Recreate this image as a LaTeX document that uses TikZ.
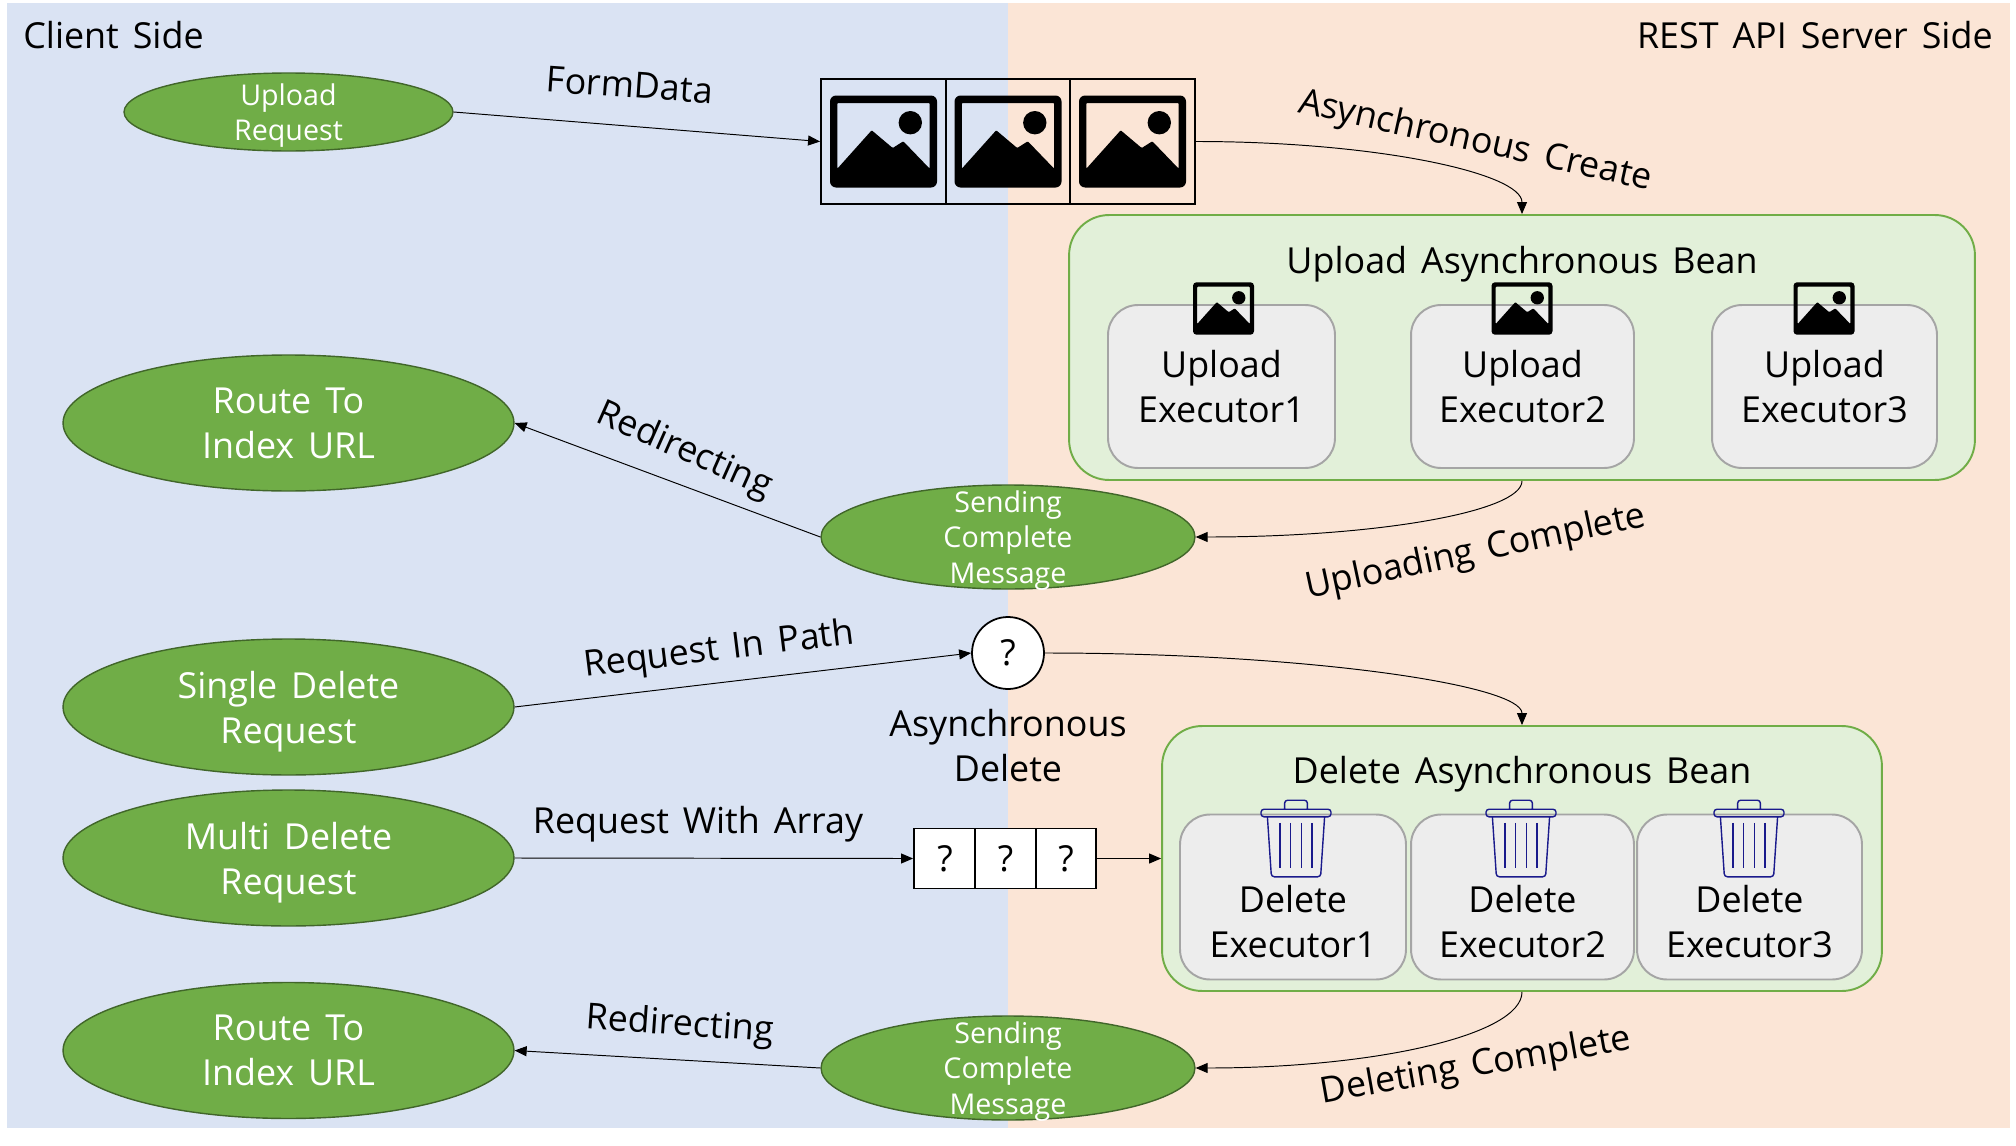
\documentclass[tikz,border=0pt]{standalone}
\usepackage{fontspec}
\setmainfont[WordSpace=1.5]{Open Sans}
\usetikzlibrary{arrows.meta,shapes.geometric}
\definecolor{clientblue}{HTML}{DAE3F3}
\definecolor{serverpeach}{HTML}{FBE5D6}
\definecolor{ovalgreen}{HTML}{70AD47}
\definecolor{ovaledge}{HTML}{41662A}
\definecolor{beangreen}{HTML}{E2F0D9}
\definecolor{execgrey}{HTML}{EDEDED}
\definecolor{execedge}{HTML}{A5A5A5}
\definecolor{trashblue}{HTML}{1A1A8C}
\newcommand{\nodepth}[1]{\raisebox{0pt}[\height][0pt]{#1}}
\tikzset{
  sidepanel/.style={rectangle, draw=none, fill=#1, inner sep=0pt, anchor=north west},
  bigtext/.style={font=\fontsize{20.4}{25.6}\selectfont, align=center, inner sep=0pt},
  greenoval/.style={ellipse, draw=ovaledge, fill=ovalgreen, line width=0.8pt, inner sep=0pt,
    text=white, font=\fontsize{20.4}{25.6}\selectfont, align=center,
    minimum width=9.02cm, minimum height=2.72cm},
  smalloval/.style={ellipse, draw=ovaledge, fill=ovalgreen, line width=0.8pt, inner sep=0pt,
    label={[text=white, font=\fontsize{16.3}{20}\selectfont, align=center, inner sep=0pt]center:#1}},
  beanbox/.style={rectangle, rounded corners=0.8cm, draw=ovalgreen, fill=beangreen, line width=1.1pt},
  execbox/.style={rectangle, rounded corners=0.6cm, draw=execedge, fill=execgrey, line width=1.1pt,
    minimum height=#1, font=\fontsize{20.4}{25.6}\selectfont, align=center, inner sep=0pt},
  cellbox/.style={rectangle, draw=black, line width=1.1pt, inner sep=0pt},
  markcell/.style={cellbox, fill=white, minimum height=1.2cm, font=\fontsize{20.4}{25.6}\selectfont},
  flowarrow/.style={-{Triangle[length=0.24cm,width=0.2cm]}, line width=0.55pt, black},
  imageicon/.pic={
    \fill[black, even odd rule]
      [rounded corners=#1] (-53.5,-46) rectangle (53.5,46)
      [rounded corners=0.5pt] (-46.2,-38.5) -- (46.2,-38.5) -- (46.2,27.2) -- (19.8,-0.2)
      -- (9.2,6.5) -- (-11.8,-11.2) -- (-46.2,27.2) -- cycle;
    \fill[black] (26.8,-18.8) circle (0.234cm);
  },
  trashicon/.pic={
    \draw[trashblue, line width=0.8pt, rounded corners=0.06cm]
      (-35,-29.3) rectangle (35,-21.7)
      (-11.4,-29.3) -- (-11.4,-38.3) -- (11.4,-38.3) -- (11.4,-29.3)
      (-28.6,-21.7) -- (-24.6,38.3) -- (24.6,38.3) -- (28.6,-21.7);
    \foreach \bar in {-16,-5.4,5.4,16} { \draw[trashblue, line width=0.8pt] (\bar,-15.7) -- (\bar,29.9); }
  },
}
\begin{document}
\begin{tikzpicture}[x=0.02cm, y=-0.02cm]
  \path[use as bounding box] (0,0) rectangle (2016,1146);
  % the two sides
  \node[sidepanel=clientblue, minimum width=20.02cm, minimum height=22.5cm] (clientside) at (7,3) {};
  \node[sidepanel=serverpeach, minimum width=20.04cm, minimum height=22.5cm] (serverside) at (1008,3) {};
  \node[bigtext, anchor=west] (clienttitle) at (23,35) {Client Side};
  \node[bigtext, anchor=east] (servertitle) at (1993,35) {REST API Server Side};

  % upload part
  \node[smalloval={Upload\\\nodepth{Request}}, minimum width=6.58cm, minimum height=1.56cm] (uploadreq) at (288.5,112) {};
  \node[cellbox, minimum width=2.5cm, minimum height=2.5cm] (imgcell1) at (883.5,141.5) {};
  \node[cellbox, minimum width=2.48cm, minimum height=2.5cm] (imgcell2) at (1008,141.5) {};
  \node[cellbox, minimum width=2.5cm, minimum height=2.5cm] (imgcell3) at (1132.5,141.5) {};
  \foreach \c in {imgcell1,imgcell2,imgcell3} { \pic at (\c) {imageicon=0.12cm}; }
  \node[beanbox, minimum width=18.12cm, minimum height=5.3cm] (uploadbean) at (1522,347.5) {};
  \node[bigtext] (uploadtitle) at (1522,264) {Upload Asynchronous Bean};
  \node[execbox=3.26cm, minimum width=4.54cm] (upexec1) at (1221.5,386.5) {Upload\\Executor1};
  \node[execbox=3.26cm, minimum width=4.46cm] (upexec2) at (1522.5,386.5) {Upload\\Executor2};
  \node[execbox=3.26cm, minimum width=4.5cm] (upexec3) at (1824.5,386.5) {Upload\\Executor3};
  \pic[scale=0.57] at (1223.5,308.5) {imageicon=0.07cm};
  \pic[scale=0.57] at (1522,308.5) {imageicon=0.07cm};
  \pic[scale=0.57] at (1824,308.5) {imageicon=0.07cm};
  \node[smalloval={Sending\\Complete\\\nodepth{Message}}, minimum width=7.48cm, minimum height=2.08cm] (sending1) at (1008,537) {};
  \node[greenoval] (route1) at (288.5,423) {Route To\\Index URL};

  \draw[flowarrow] (uploadreq.east) -- (imgcell1.west);
  \draw[flowarrow] (imgcell3.east) .. controls +(180,0) and +(0,-41) .. (uploadbean.north);
  \draw[flowarrow] (uploadbean.south) .. controls +(0,31) and +(180,0) .. (sending1.east);
  \draw[flowarrow] (sending1.west) -- (route1.east);
  \node[bigtext, rotate=-4] at (630,85) (formlabel) {FormData};
  \node[bigtext, rotate=-12.5] at (1475,142) (createlabel) {Asynchronous Create};
  \node[bigtext, rotate=12] at (1476,553) (uploadedlabel) {Uploading Complete};
  \node[bigtext, rotate=-24] at (684,451) (redirect1) {Redirecting};

  % delete part
  \node[greenoval] (singledel) at (288.5,707) {Single Delete\\\nodepth{Request}};
  \node[greenoval] (multidel) at (288.5,858) {Multi Delete\\\nodepth{Request}};
  \node[circle, draw=black, fill=white, line width=1pt, minimum size=1.44cm, inner sep=0pt,
    font=\fontsize{20.4}{25.6}\selectfont] (singlemark) at (1008,653) {?};
  \node[markcell, minimum width=1.24cm] (markcell1) at (945,858.5) {?};
  \node[markcell, minimum width=1.22cm] (markcell2) at (1005.5,858.5) {?};
  \node[markcell, minimum width=1.2cm] (markcell3) at (1066,858.5) {?};
  \node[beanbox, minimum width=14.4cm, minimum height=5.3cm] (deletebean) at (1522,858.5) {};
  \node[bigtext] (deletetitle) at (1522,774) {Delete Asynchronous Bean};
  \node[execbox=3.3cm, minimum width=4.52cm] (delexec1) at (1293,897) {};
  \node[execbox=3.3cm, minimum width=4.46cm] (delexec2) at (1522.5,897) {};
  \node[execbox=3.3cm, minimum width=4.5cm] (delexec3) at (1749.5,897) {};
  \node[bigtext] (deltext1) at (1293,922) {Delete\\Executor1};
  \node[bigtext] (deltext2) at (1522.5,922) {Delete\\Executor2};
  \node[bigtext] (deltext3) at (1749.5,922) {Delete\\Executor3};
  \foreach \x in {1296,1521,1749} { \pic at (\x,838.5) {trashicon}; }
  \node[smalloval={Sending\\Complete\\\nodepth{Message}}, minimum width=7.48cm, minimum height=2.08cm] (sending2) at (1008,1068) {};
  \node[greenoval] (route2) at (288.5,1050.5) {Route To\\Index URL};

  \draw[flowarrow] (singledel.east) -- (singlemark.west);
  \draw[flowarrow] (singlemark.east) .. controls +(263,0) and +(0,-40) .. (deletebean.north);
  \draw[flowarrow] (multidel.east) -- (markcell1.west);
  \draw[flowarrow] (markcell3.east) -- (deletebean.west |- markcell3.east);
  \draw[flowarrow] (deletebean.south) .. controls +(0,43) and +(180,0) .. (sending2.east);
  \draw[flowarrow] (sending2.west) -- (route2.east);
  \node[bigtext, rotate=7] at (719,651) (pathlabel) {Request In Path};
  \node[bigtext] at (1008,746) (asyncdel) {Asynchronous\\Delete};
  \node[bigtext] at (698,824) (arraylabel) {Request With Array};
  \node[bigtext, rotate=10] at (1476,1067) (deletedlabel) {Deleting Complete};
  \node[bigtext, rotate=-4] at (680,1026) (redirect2) {Redirecting};
\end{tikzpicture}
\end{document}
